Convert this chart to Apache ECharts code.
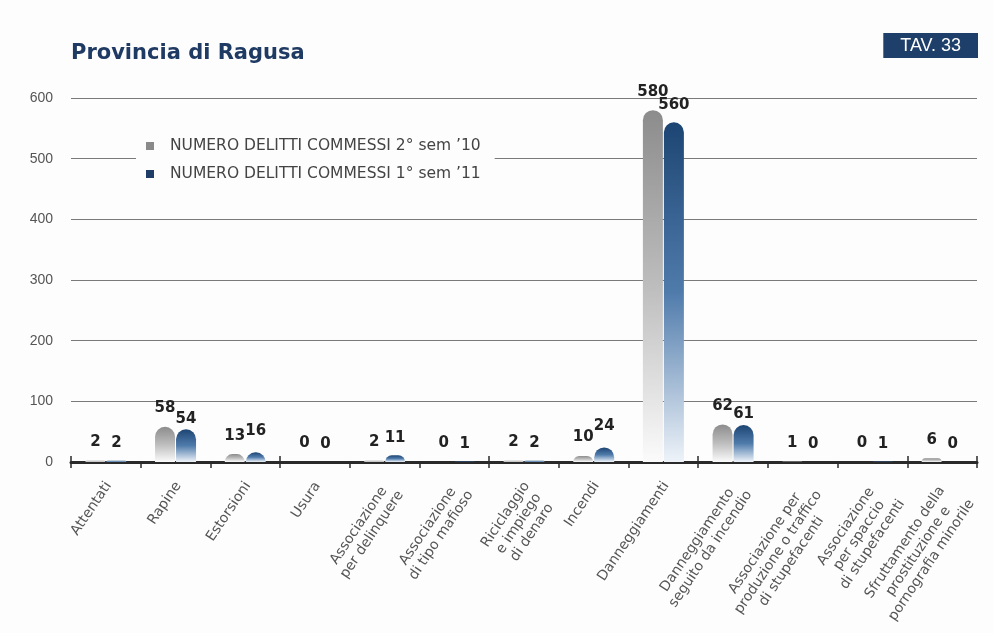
<!DOCTYPE html>
<html>
<head>
<meta charset="utf-8">
<script src="https://cdn.jsdelivr.net/npm/echarts@6/dist/echarts.min.js"></script>
<style>
  html, body { margin: 0; padding: 0; background: #fdfdfd; }
  #chart { width: 994px; height: 633px; }
</style>
</head>
<body>
<div id="chart"></div>
<script>
const categories = [
  'Attentati',
  'Rapine',
  'Estorsioni',
  'Usura',
  'Associazione\nper delinquere',
  'Associazione\ndi tipo mafioso',
  'Riciclaggio\ne impiego\ndi denaro',
  'Incendi',
  'Danneggiamenti',
  'Danneggiamento\nseguito da incendio',
  'Associazione per\nproduzione o traffico\ndi stupefacenti',
  'Associazione\nper spaccio\ndi stupefacenti',
  'Sfruttamento della\nprostituzione e\npornografia minorile'
]
const seriesNames = ['NUMERO DELITTI COMMESSI 2° sem ’10', 'NUMERO DELITTI COMMESSI 1° sem ’11']
const sem2_10 = [2, 58, 13, 0, 2, 0, 2, 10, 580, 62, 1, 0, 6]
const sem1_11 = [2, 54, 16, 0, 11, 1, 2, 24, 560, 61, 0, 1, 0]
const yTicks = [0, 100, 200, 300, 400, 500, 600]

const grayGrad = new echarts.graphic.LinearGradient(0, 0, 0, 1, [
  { offset: 0, color: '#8c8c8c' },
  { offset: 0.5, color: '#bdbdbd' },
  { offset: 1, color: '#fbfbfb' }
])
const blueGrad = new echarts.graphic.LinearGradient(0, 0, 0, 1, [
  { offset: 0, color: '#1d4573' },
  { offset: 0.5, color: '#4f7bab' },
  { offset: 1, color: '#eef3f9' }
])

const valueLabel = (dist) => ({
  show: true,
  position: 'top',
  distance: dist,
  color: '#222',
  fontSize: 15,
  fontWeight: 'bold',
  fontFamily: 'DejaVu Sans'
})

// stagger the blue label against the grey one when both numbers are wide,
// otherwise the two would run into each other
const blueData = sem1_11.map((v, i) => {
  const g = sem2_10[i]
  let d = 10
  if (v >= 20 && g >= v && g - v < 10) d = 3
  else if (g >= 10 && v > g) d = 14
  return { value: v, label: { distance: d } }
})

const chart = echarts.init(document.getElementById('chart'))

chart.setOption({
  backgroundColor: '#fdfdfd',
  animation: false,
  title: [
    {
      text: 'Provincia di Ragusa',
      left: 66,
      top: 38,
      textStyle: {
        color: '#1f3a63',
        fontSize: 21,
        fontWeight: 'bold',
        fontFamily: 'DejaVu Sans'
      }
    },
    {
      text: 'TAV. 33',
      right: 16,
      top: 33,
      backgroundColor: '#1f3f6b',
      padding: [4, 17, 3, 17],
      textStyle: {
        color: '#ffffff',
        fontSize: 18,
        fontWeight: 'normal',
        fontFamily: 'Liberation Sans'
      }
    }
  ],
  legend: {
    orient: 'vertical',
    left: 136,
    top: 134,
    backgroundColor: '#fdfdfd',
    padding: [4, 14, 4, 10],
    itemWidth: 8,
    itemHeight: 8,
    itemGap: 12,
    icon: 'rect',
    textStyle: {
      color: '#444',
      fontSize: 15.5,
      fontFamily: 'DejaVu Sans',
      padding: [0, 0, 0, 11]
    },
    data: [
      { name: seriesNames[0], itemStyle: { color: '#8a8a8a' } },
      { name: seriesNames[1], itemStyle: { color: '#1f3d66' } }
    ]
  },
  grid: {
    left: 71,
    right: 17,
    top: 98,
    bottom: 171,
    containLabel: false
  },
  xAxis: [
    {
      type: 'category',
      data: categories,
      axisLine: { lineStyle: { color: '#2a2a2a', width: 3 } },
      axisTick: { show: true, length: 6, lineStyle: { color: '#2a2a2a', width: 1.5 } },
      axisLabel: {
        interval: 0,
        rotate: 56,
        margin: 11,
        verticalAlign: 'top',
        color: '#555',
        fontSize: 14,
        fontFamily: 'DejaVu Sans',
        padding: [0, 7, 0, 0],
        formatter: (v) => v.split('\n').map(l => '{c|' + l + '}').join('\n'),
        rich: {
          c: { align: 'center', color: '#555', fontSize: 14, fontFamily: 'DejaVu Sans', lineHeight: 16 }
        }
      }
    },
    {
      // ticks above the axis line too, so they cross it
      type: 'category',
      data: categories,
      position: 'bottom',
      axisLine: { show: false },
      axisTick: { show: true, inside: true, length: 6, lineStyle: { color: '#2a2a2a', width: 1.5 } },
      axisLabel: { show: false },
      splitLine: { show: false }
    }
  ],
  yAxis: {
    type: 'value',
    min: yTicks[0],
    max: yTicks[yTicks.length - 1],
    interval: 100,
    axisLine: { show: false },
    axisTick: { show: false },
    axisLabel: {
      color: '#555',
      fontSize: 14,
      margin: 18,
      fontFamily: 'Liberation Sans'
    },
    splitLine: {
      show: true,
      lineStyle: { color: '#7a7a7a', width: 1 }
    }
  },
  series: [
    {
      name: seriesNames[0],
      type: 'bar',
      data: sem2_10,
      barWidth: 20,
      barGap: '5%',
      itemStyle: { color: grayGrad, borderRadius: [10, 10, 0, 0] },
      label: valueLabel(11)
    },
    {
      name: seriesNames[1],
      type: 'bar',
      data: blueData,
      barWidth: 20,
      itemStyle: { color: blueGrad, borderRadius: [10, 10, 0, 0] },
      label: valueLabel(10)
    }
  ]
})
</script>
</body>
</html>
